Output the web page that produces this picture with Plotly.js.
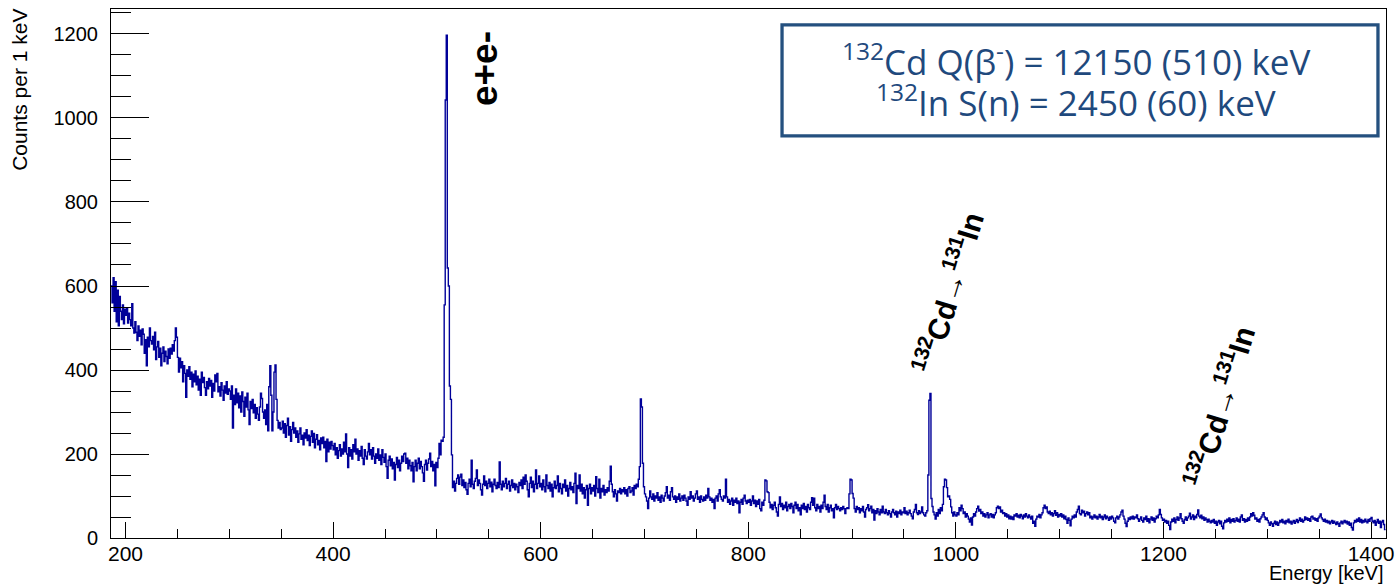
<!DOCTYPE html>
<html><head><meta charset="utf-8">
<script src="https://cdn.plot.ly/plotly-3.0.1.min.js"></script>
<style>html,body{margin:0;padding:0;background:#fff;}#chart{width:1396px;height:585px;}</style>
</head><body><div id="chart"></div>
<script>
// Counts per 1 keV bin, each array starts at the keV given in segmentStarts
const c0186 = [600,560,620,540,610,515,590,505,575,540,520,555,510,545];
const c0200 = [530,548,512,535,520,505,558,500,488,515,
490,470,505,480,495,460,498,485,440,472,
410,478,455,500,470,462,480,448,490,425,
455,468,430,452,410,440,455,420,445,432,
415,450,428,452,438,460,445,470,500,478,
430,395,428,405,420,372,410,392,335,400,
385,408,378,395,360,390,372,398,365,385,
352,378,340,395,370,382,358,340,372,355,
380,362,375,335,368,350,388,372,392,348,
360,338,370,352,328,362,345,372,342,355];
const c0300 = [350,330,362,262,340,318,355,322,345,310,
338,300,348,325,290,335,312,345,305,270,
325,308,330,298,318,285,310,295,280,312,
345,332,300,285,305,270,318,255,360,410,
340,255,300,395,412,330,280,262,275,258,
262,278,250,272,240,268,285,245,265,230,
258,275,250,262,240,255,228,248,262,235,
245,222,250,238,258,232,245,220,242,255,
228,249,215,235,246,222,232,210,238,225,
240,215,230,182,235,205,228,212,230,220];
const c0400 = [210,225,198,215,190,208,222,195,212,200,
228,205,248,200,168,215,195,210,188,222,
205,235,200,212,185,208,195,218,190,175,
210,195,188,205,225,198,210,188,215,195,
178,200,190,212,185,198,175,210,192,180,
200,170,142,185,195,172,188,165,180,138,
175,192,168,185,160,178,195,182,200,202,
178,190,165,185,172,160,180,134,170,185,
160,178,190,165,182,170,155,135,175,185,
162,178,188,202,170,182,160,175,124,180];
const c0500 = [168,190,225,198,233,230,240,555,1043,1197,
643,600,362,330,198,120,135,112,130,142,
150,128,145,152,125,138,120,132,115,104,
130,140,122,185,128,118,135,142,162,125,
138,130,115,102,128,148,125,135,118,130,
140,122,133,110,128,140,125,118,132,120,
181,128,115,135,122,130,142,118,128,135,
112,125,138,120,130,115,128,122,108,132,
125,138,118,145,128,150,135,115,98,130,
145,120,135,110,128,162,118,130,148,122];
const c0600 = [130,115,138,122,110,150,125,118,132,112,
128,98,120,135,118,125,148,110,130,118,
105,128,120,138,112,125,100,118,132,115,
122,108,130,154,82,125,118,150,112,128,
105,120,95,115,125,78,118,128,105,120,
112,125,100,146,118,108,140,95,118,110,
125,102,115,108,120,112,135,171,128,110,
98,115,105,88,112,108,118,105,115,110,
120,105,115,100,118,122,108,112,120,102,
125,118,128,122,140,170,331,312,178,122];
const c0700 = [105,98,88,70,95,112,98,92,105,88,
100,95,108,90,98,85,102,95,88,100,
108,122,95,102,90,110,120,98,92,100,
85,98,92,105,88,95,100,90,102,95,
88,78,98,92,110,95,100,88,95,105,
112,92,98,85,100,92,88,98,90,102,
95,118,98,90,95,85,92,70,95,100,
88,105,115,98,92,88,100,95,140,98,
85,92,80,88,95,78,90,85,95,82,
88,60,85,92,80,95,102,88,82,90];
const c0800 = [85,92,78,88,100,82,90,75,88,80,
92,70,65,85,78,90,138,136,110,108,
85,72,80,68,78,85,72,62,52,80,
98,75,82,68,78,72,85,65,75,80,
70,82,75,60,78,85,70,80,65,72,
55,78,70,82,68,75,62,80,72,68,
85,96,78,95,72,65,80,70,75,62,
78,70,85,102,75,68,80,62,72,78,
65,70,48,72,80,68,75,70,65,72,
68,75,70,58,70,72,70,105,140,138];
const c0900 = [106,95,70,62,75,68,72,60,70,65,
75,62,50,68,72,79,65,70,76,60,
68,43,65,58,70,62,55,68,60,76,
62,58,68,60,55,65,58,50,62,68,
60,55,64,50,62,58,66,55,62,60,
72,58,64,55,60,66,58,52,46,62,
68,80,60,56,65,58,62,74,60,55,
52,60,65,150,328,344,94,75,62,55,
45,60,52,68,58,72,65,80,122,140,
138,120,98,100,92,74,60,52,62,55];
const c1000 = [52,60,55,72,65,78,70,58,62,50,
58,52,45,38,48,31,50,58,52,62,
70,76,64,68,58,62,52,58,50,55,
60,48,55,58,50,56,48,55,60,72,
76,70,74,62,66,58,60,52,58,50,
55,46,52,45,50,44,55,52,58,50,
54,48,56,52,46,55,50,58,52,48,
55,50,45,52,35,40,28,45,52,50,
56,48,55,60,72,78,70,74,62,58,
64,55,60,52,58,65,54,60,50,56];
const c1100 = [52,58,50,55,46,52,44,35,48,42,
29,45,52,48,55,50,62,68,76,58,
55,66,60,64,52,58,62,55,60,48,
52,45,50,55,48,52,45,50,56,48,
52,44,50,55,46,52,48,42,50,45,
52,48,40,36,48,52,45,50,55,62,
66,52,45,35,27,40,48,44,50,46,
52,45,50,48,55,46,40,45,50,42,
38,48,44,52,40,46,36,45,50,42,
48,38,46,52,48,55,68,56,48,42];
const c1200 = [45,38,42,35,40,30,20,38,45,40,
48,36,44,50,42,48,58,46,40,35,
44,50,42,48,52,59,45,50,55,44,
52,48,56,67,52,48,54,46,50,42,
48,44,38,45,40,36,42,38,44,35,
40,30,38,42,34,40,28,22,36,42,
38,45,40,48,36,44,40,46,38,42,
48,40,45,38,50,55,42,46,38,44,
40,48,42,50,58,52,60,54,45,48,
40,44,38,46,50,55,60,50,44,48];
const c1300 = [42,36,30,38,34,28,35,40,32,38,
30,36,42,38,44,36,40,34,42,38,
45,36,40,33,38,42,35,40,44,37,
42,48,40,45,38,42,50,44,48,42,
46,40,50,52,45,48,42,46,40,48,
52,57,48,44,40,45,38,42,36,40,
34,38,42,35,40,36,32,38,34,28,
36,40,34,38,42,36,40,33,38,30,
35,25,19,36,42,38,45,40,48,38,
44,36,42,38,45,40,36,44,40,46];
const c1400 = [49,40,36,42,30,38,44,35,40,25,38,42,32,20];

const segmentStarts = [186,200,300,400,500,600,700,800,900,1000,1100,1200,1300,1400];
const segments = [c0186,c0200,c0300,c0400,c0500,c0600,c0700,c0800,c0900,c1000,c1100,c1200,c1300,c1400];

const xTickVals = [200,400,600,800,1000,1200,1400];
const yTickVals = [0,200,400,600,800,1000,1200];

const energy = [], counts = [];
segments.forEach((seg, s) => seg.forEach((v, i) => { energy.push(segmentStarts[s] + i); counts.push(v); }));
energy.push(energy[energy.length - 1] + 1);
counts.push(counts[counts.length - 1]);

const rootFont = 'Liberation Sans, Arial, Helvetica, sans-serif';
const boxBlue = '#24507f';
const textBlue = '#1f497d';

const trace = {
  x: energy, y: counts, type: 'scatter', mode: 'lines',
  line: {shape: 'hv', color: '#000099', width: 1.4},
  hoverinfo: 'x+y'
};

const layout = {
  width: 1396, height: 585,
  margin: {l: 111, r: 10, t: 9, b: 47},
  paper_bgcolor: '#fff', plot_bgcolor: '#fff',
  showlegend: false,
  font: {family: rootFont, size: 20, color: '#000'},
  xaxis: {
    range: [186, 1414.4], tickvals: xTickVals, ticktext: xTickVals.map(String),
    ticks: 'inside', ticklen: 16, tickwidth: 1, tickcolor: '#000',
    minor: {dtick: 50, tick0: 0, ticks: 'inside', ticklen: 9, tickwidth: 1, tickcolor: '#000'},
    showline: true, mirror: true, linecolor: '#000', linewidth: 1,
    showgrid: false, zeroline: false,
    tickfont: {family: rootFont, size: 21, color: '#000'},
    ticklabelstandoff: -3
  },
  yaxis: {
    range: [0, 1259.5], tickvals: yTickVals, ticktext: yTickVals.map(String),
    ticks: 'inside', ticklen: 38, tickwidth: 1, tickcolor: '#000',
    minor: {dtick: 50, tick0: 0, ticks: 'inside', ticklen: 20, tickwidth: 1, tickcolor: '#000'},
    showline: true, mirror: true, linecolor: '#000', linewidth: 1,
    showgrid: false, zeroline: false,
    tickfont: {family: rootFont, size: 20, color: '#000'},
    ticklabelstandoff: 8
  },
  shapes: [{
    type: 'rect', xref: 'paper', yref: 'paper',
    x0: 0.5263, x1: 0.9937, y0: 0.760, y1: 0.970,
    line: {color: boxBlue, width: 3.3}, fillcolor: '#fff', layer: 'above'
  }],
  annotations: [
    {text: 'Counts per 1 keV', xref: 'paper', yref: 'paper', x: -0.0714, y: 1.004,
     xanchor: 'center', yanchor: 'top', textangle: -90, showarrow: false,
     font: {family: rootFont, size: 21, color: '#000'}},
    {text: 'Energy [keV]', xref: 'paper', yref: 'paper', x: 1.0, y: -0.066,
     xanchor: 'right', yanchor: 'middle', showarrow: false,
     font: {family: rootFont, size: 20, color: '#000'}},
    {text: '<b>e+e-</b>', xref: 'x', yref: 'y', x: 546, y: 1118,
     xanchor: 'center', yanchor: 'middle', textangle: -90, showarrow: false,
     font: {family: rootFont, size: 37, color: '#000'}},
    {text: '<b><sup>132</sup>Cd</b>→<b><sup>131</sup>In</b>', xref: 'x', yref: 'y', x: 992.4, y: 586,
     xanchor: 'center', yanchor: 'middle', textangle: -73, showarrow: false,
     font: {family: rootFont, size: 30, color: '#000'}},
    {text: '<b><sup>132</sup>Cd</b>→<b><sup>131</sup>In</b>', xref: 'x', yref: 'y', x: 1253.5, y: 312,
     xanchor: 'center', yanchor: 'middle', textangle: -73, showarrow: false,
     font: {family: rootFont, size: 30, color: '#000'}},
    {text: '<sup>132</sup>Cd Q(β<sup>-</sup>) = 12150 (510) keV', xref: 'paper', yref: 'paper',
     x: 0.757, y: 0.9036, xanchor: 'center', yanchor: 'middle', showarrow: false,
     font: {family: 'Open Sans, sans-serif', size: 35, color: textBlue}},
    {text: '<sup>132</sup>In S(n) = 2450 (60) keV', xref: 'paper', yref: 'paper',
     x: 0.757, y: 0.8261, xanchor: 'center', yanchor: 'middle', showarrow: false,
     font: {family: 'Open Sans, sans-serif', size: 35, color: textBlue}}
  ]
};

Plotly.newPlot('chart', [trace], layout, {displayModeBar: false, staticPlot: true});
</script></body></html>
